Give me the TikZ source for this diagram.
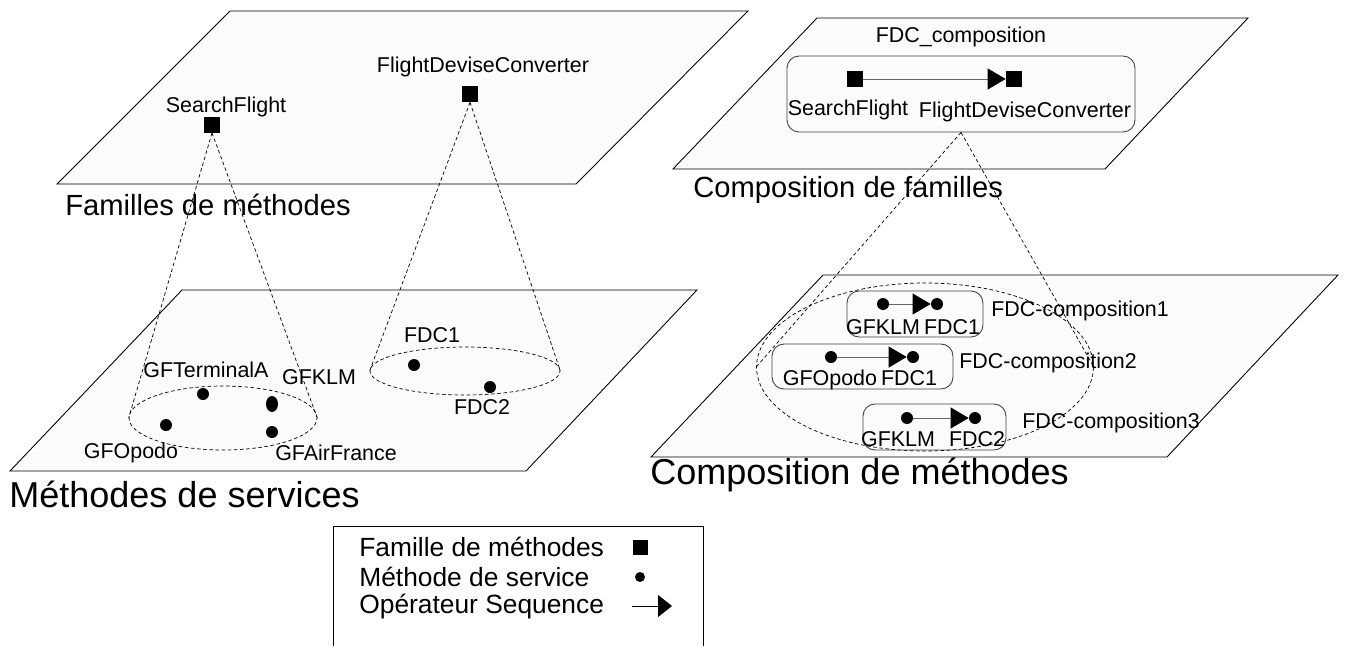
\documentclass[tikz,border=0pt]{standalone}
\usepackage{fontspec}
\setmainfont{Liberation Sans}
\usetikzlibrary{arrows.meta, shapes.geometric}

\begin{document}
\begin{tikzpicture}[x=0.02cm, y=-0.02cm,
        plane/.style={draw=black, line width=0.5pt, fill=black!1.5},
        fam/.style={fill=black, inner sep=0, minimum size=0.32cm},
        meth/.style={circle, fill=black, inner sep=0, minimum size=0.24cm},
        cone/.style={draw, ellipse, dash pattern=on 2pt off 1.5pt, line width=0.4pt, inner sep=0},
        proj/.style={dash pattern=on 2pt off 1.5pt, line width=0.4pt},
        cbox/.style={draw=black!75, rounded corners=0.24cm, line width=0.5pt, inner sep=0},
        seq/.style={draw=black!60, line width=0.5pt, -{Triangle[length=0.36cm, width=0.42cm, color=black]}},
        lbl/.style={inner sep=0, font=\fontsize{12.2}{14}\selectfont},
        title/.style={inner sep=0, anchor=base west, font=\fontsize{16.6}{19}\selectfont},
        bigtitle/.style={inner sep=0, anchor=base west, font=\fontsize{20.5}{24}\selectfont},
        leg/.style={inner sep=0, anchor=west, font=\fontsize{15}{18}\selectfont}]
        \useasboundingbox (0,0) rectangle (1346,646);

        % les quatre plans
        \draw[plane] (230,11) -- (748,11) -- (576,184) -- (57,184) -- cycle;
        \draw[plane] (817,18) -- (1248,18) -- (1105,169) -- (673,169) -- cycle;
        \draw[plane] (182,290) -- (697,290) -- (526,471) -- (10,471) -- cycle;
        \draw[plane] (823,275) -- (1338,275) -- (1167,457) -- (651,457) -- cycle;

        \node[title] (tfam) at (65,215) {Familles de méthodes};
        \node[title] (tcf) at (693,197) {Composition de familles};
        \node[bigtitle] (tms) at (9,507) {Méthodes de services};
        \node[bigtitle] (tcm) at (650,484) {Composition de méthodes};

        % familles
        \node[fam] (sf) at (212,124.5) {};
        \node[lbl] (sfl) at (226,107) {SearchFlight};
        \node[fam] (fdc) at (470,94) {};
        \node[lbl] (fdcl) at (483,67) {FlightDeviseConverter};

        % methodes de services
        \node[cone, minimum width=3.76cm, minimum height=1.28cm] (ellsf) at (223,418) {};
        \node[cone, minimum width=3.8cm, minimum height=0.96cm] (ellfdc) at (465,371) {};
        \node[meth] (gfta) at (203,394) {};
        \node[meth, ellipse, minimum width=0.24cm, minimum height=0.32cm] (gfklm) at (272,404) {};
        \node[meth] (gfop) at (166,425) {};
        \node[meth] (gfaf) at (272,432) {};
        \node[meth] (fdc1) at (414,365) {};
        \node[meth] (fdc2) at (490,387) {};
        \node[lbl] at (206,370) {GFTerminalA};
        \node[lbl] at (319,377) {GFKLM};
        \node[lbl] at (131,453) {GFOpodo};
        \node[lbl] at (336,453) {GFAirFrance};
        \node[lbl] at (432,335) {FDC1};
        \node[lbl] at (482,407) {FDC2};

        \draw[proj] (sf.south) -- (ellsf.west);
        \draw[proj] (sf.south) -- (ellsf.east);
        \draw[proj] (fdc.south) -- (ellfdc.west);
        \draw[proj] (fdc.south) -- (ellfdc.east);

        % composition de familles
        \node[cbox, minimum width=6.96cm, minimum height=1.52cm] (fdcbox) at (961,94) {};
        \node[lbl] at (961,37) {FDC\_composition};
        \node[fam] (csf) at (855,79) {};
        \node[fam] (cfdc) at (1014,79) {};
        \draw[seq] (csf) -- (cfdc);
        \node[lbl] at (848,110) {SearchFlight};
        \node[lbl] at (1025,112) {FlightDeviseConverter};

        % composition de methodes
        \node[cone, minimum width=6.74cm, minimum height=3.36cm] (ellc) at (925,367) {};
        \draw[proj] (fdcbox.south) -- (ellc.west);
        \draw[proj] (fdcbox.south) -- (ellc.east);

        \node[cbox, minimum width=2.72cm, minimum height=0.92cm] (c1) at (915,314) {};
        \node[meth] (c1a) at (883,304) {};
        \node[meth] (c1b) at (937,304) {};
        \draw[seq] (c1a) -- (c1b);
        \node[lbl, anchor=base] at (883,334) {GFKLM};
        \node[lbl, anchor=base] at (952,334) {FDC1};
        \node[lbl, anchor=west] at (991,311) {FDC-composition1};

        \node[cbox, minimum width=3.62cm, minimum height=0.9cm] (c2) at (862.5,366.5) {};
        \node[meth] (c2a) at (831,357) {};
        \node[meth] (c2b) at (913,357) {};
        \draw[seq] (c2a) -- (c2b);
        \node[lbl, anchor=base] at (830,385) {GFOpodo};
        \node[lbl, anchor=base] at (909,385) {FDC1};
        \node[lbl, anchor=west] at (959,363) {FDC-composition2};

        \node[cbox, minimum width=2.86cm, minimum height=0.92cm] (c3) at (934.5,427) {};
        \node[meth] (c3a) at (907,418) {};
        \node[meth] (c3b) at (975,418) {};
        \draw[seq] (c3a) -- (c3b);
        \node[lbl, anchor=base] at (898,446) {GFKLM};
        \node[lbl, anchor=base] at (977,446) {FDC2};
        \node[lbl, anchor=west] at (1022,423) {FDC-composition3};

        % legende
        \draw[line width=0.5pt] (333,646) -- (333,526) -- (703,526) -- (703,646);
        \node[leg] at (359,547) {Famille de méthodes};
        \node[leg] at (359,577) {Méthode de service};
        \node[leg] at (359,607) {Opérateur Sequence};
        \node[fam, minimum size=0.3cm] (lfam) at (640.5,547) {};
        \node[meth, minimum size=0.2cm] (lmeth) at (640,577) {};
        \coordinate (lseq1) at (632,606);
        \coordinate (lseq2) at (672,606);
        \draw[line width=0.5pt, -{Triangle[length=0.28cm, width=0.44cm]}] (lseq1) -- (lseq2);
\end{tikzpicture}
\end{document}
